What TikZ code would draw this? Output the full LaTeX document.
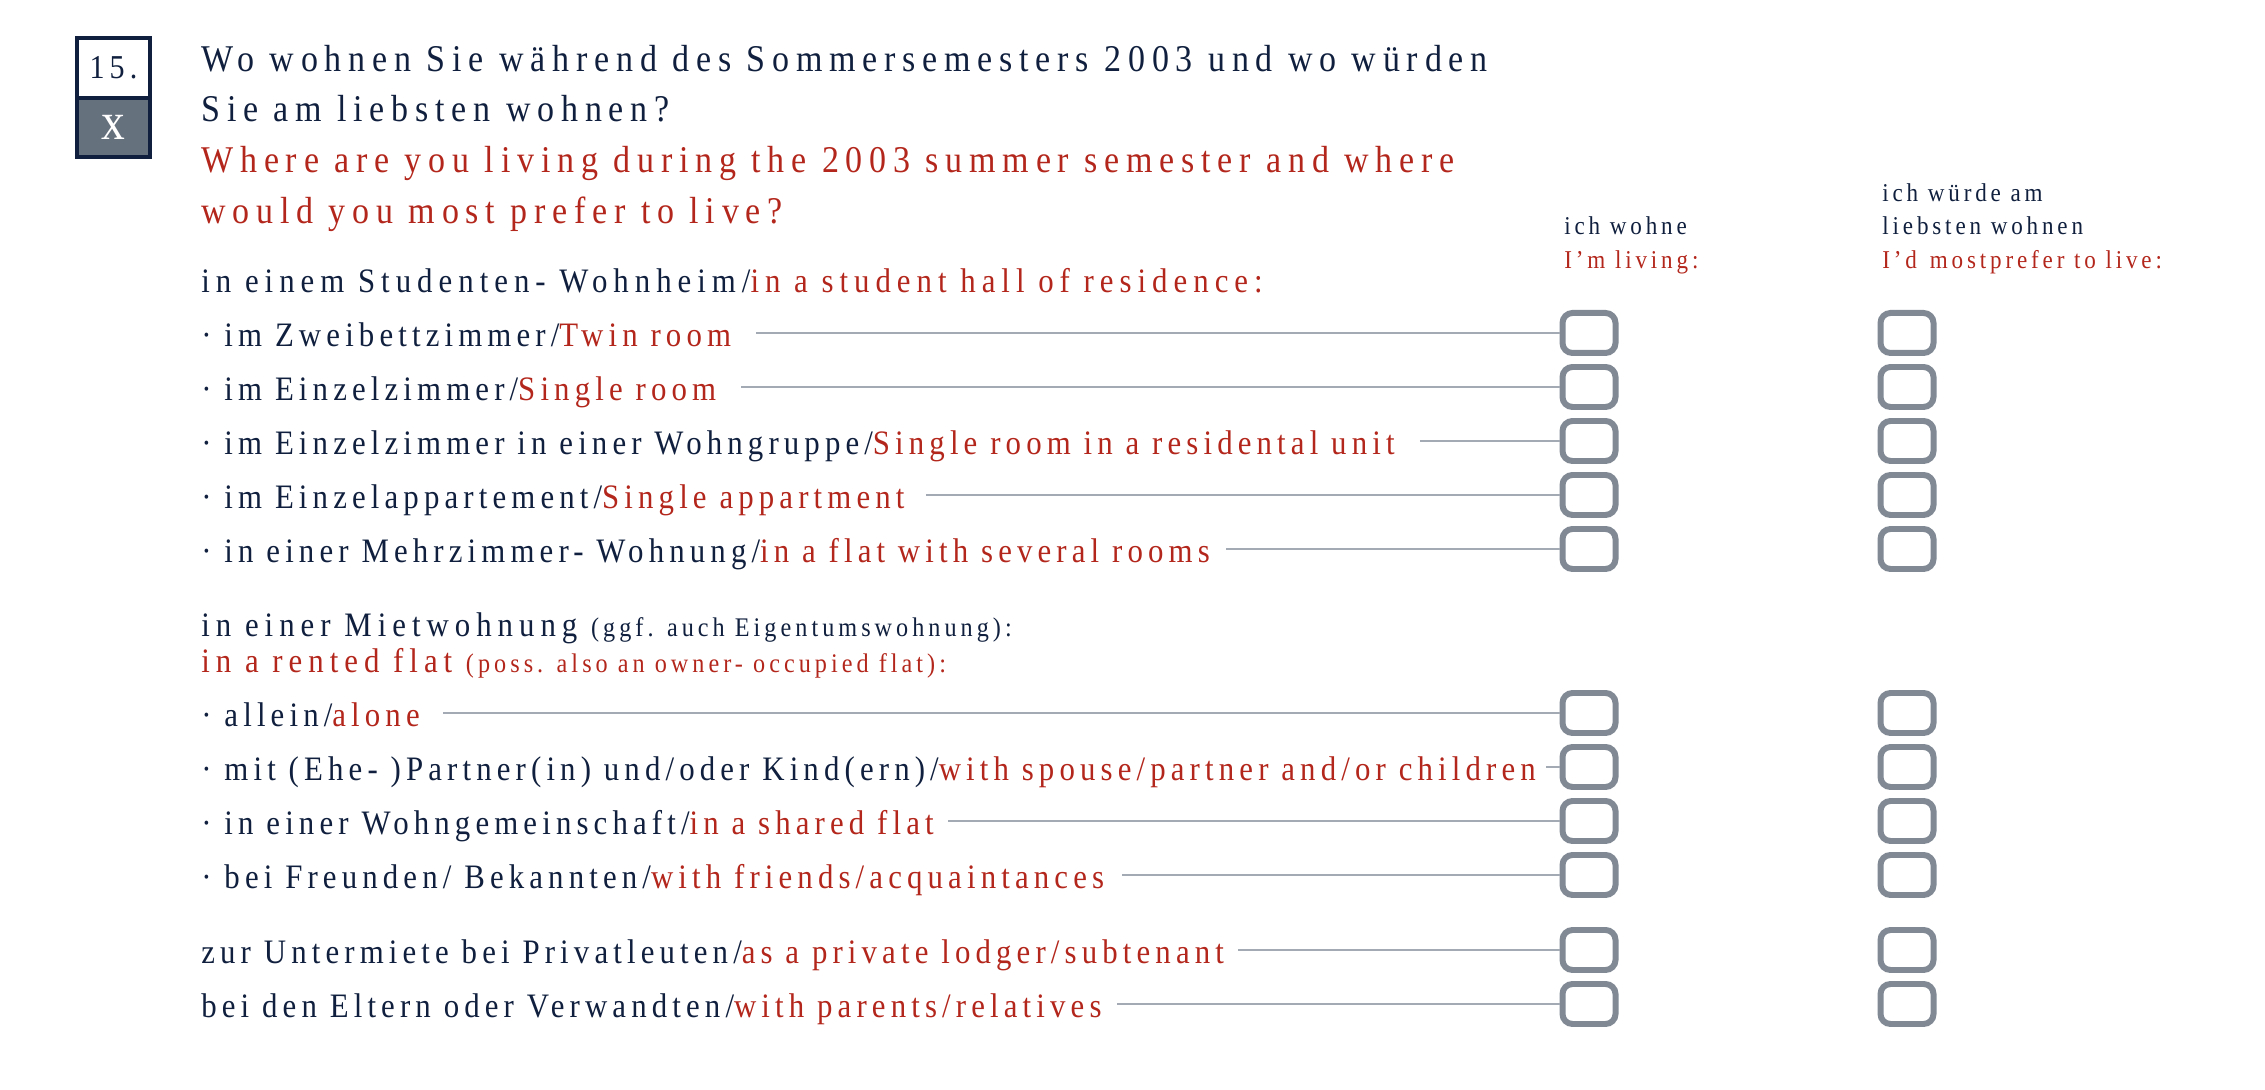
\documentclass[tikz,border=0pt]{standalone}
\usepackage{fontspec}
\setmainfont{Liberation Serif}[FakeStretch=0.9,LetterSpace=15]
\newfontfamily\titlefont{Liberation Serif}[FakeStretch=0.9,LetterSpace=18]
\newfontfamily\sectfont{Liberation Serif}[FakeStretch=0.9,LetterSpace=17.5]
\usepackage{tikz}
\usepackage{xcolor}

\definecolor{navy}{HTML}{0F1F3D}
\definecolor{brick}{HTML}{B3261B}
\definecolor{slate}{HTML}{66717E}
\definecolor{boxgrey}{HTML}{808994}
\definecolor{leadgrey}{HTML}{A3AAB4}
\newcommand{\en}[1]{\textcolor{brick}{#1}}
\newcommand{\dotrow}{\textperiodcentered\ }
\newcommand{\aside}[1]{{\fontsize{15.3}{18}\selectfont\rmfamily #1}}

\tikzset{
  numbox/.style={draw=navy,line width=2.3pt,minimum width=1.46cm,minimum height=1.19cm,inner sep=0pt},
  title/.style={anchor=base west,inner sep=0pt,text=navy,font=\titlefont\fontsize{21.5}{25}\selectfont},
  sect/.style={anchor=base west,inner sep=0pt,text=navy,font=\sectfont\fontsize{19.5}{23}\selectfont},
  row/.style={anchor=base west,inner sep=0pt,text=navy,font=\fontsize{19.5}{23}\selectfont},
  head/.style={anchor=base west,inner sep=0pt,text=navy,font=\fontsize{14.6}{17}\selectfont},
  tickbox/.style={draw=boxgrey,line width=3.4pt,rounded corners=0.2cm,minimum width=1.06cm,minimum height=0.8cm,inner sep=0pt},
  leader/.style={draw=leadgrey,line width=1.1pt}
}

\begin{document}
\begin{tikzpicture}

\useasboundingbox (0,0) rectangle (45.3,21.8);

\node[numbox,fill=white] (num) at (2.27,20.44) {\fontsize{19}{22}\selectfont\color{navy}15.};
\node[numbox,fill=slate] (ans) at (2.27,19.25) {\fontsize{30}{30}\selectfont\color{white}x};

\node[title] (q1) at (4.02,20.36) {Wo wohnen Sie während des Sommersemesters 2003 und wo würden};
\node[title] (q2) at (4.02,19.36) {Sie am liebsten wohnen?};
\node[title,text=brick] (q3) at (4.02,18.34) {Where are you living during the 2003 summer semester and where};
\node[title,text=brick] (q4) at (4.02,17.32) {would you most prefer to live?};

\node[head] (h1) at (31.28,17.1) {ich wohne};
\node[head,text=brick] (h1en) at (31.28,16.42) {I'm living:};
\node[head] (h2) at (37.64,17.76) {ich würde am};
\node[head] (h2b) at (37.64,17.1) {liebsten wohnen};
\node[head,text=brick] (h2en) at (37.64,16.42) {I'd\enspace mostprefer to live:};

% student hall
\node[sect] (hall) at (4.02,15.94) {in einem Studenten- Wohnheim/\en{in a student hall of residence:}};
\node[row] (r1) at (4.02,14.86) {\dotrow im Zweibettzimmer/\en{Twin room}};
\node[row] (r2) at (4.02,13.78) {\dotrow im Einzelzimmer/\en{Single room}};
\node[row] (r3) at (4.02,12.70) {\dotrow im Einzelzimmer in einer Wohngruppe/\en{Single room in a residental unit}};
\node[row] (r4) at (4.02,11.62) {\dotrow im Einzelappartement/\en{Single appartment}};
\node[row] (r5) at (4.02,10.54) {\dotrow in einer Mehrzimmer- Wohnung/\en{in a flat with several rooms}};

% rented flat
\node[sect] (flat) at (4.02,9.06) {in einer Mietwohnung \aside{(ggf. auch Eigentumswohnung):}};
\node[sect,text=brick] (flaten) at (4.02,8.34) {in a rented flat \aside{(poss. also an owner- occupied flat):}};
\node[row] (r6) at (4.02,7.26) {\dotrow allein/\en{alone}};
\node[row] (r7) at (4.02,6.18) {\dotrow mit (Ehe- )Partner(in) und/oder Kind(ern)/\en{with spouse/partner and/or children}};
\node[row] (r8) at (4.02,5.10) {\dotrow in einer Wohngemeinschaft/\en{in a shared flat}};
\node[row] (r9) at (4.02,4.02) {\dotrow bei Freunden/ Bekannten/\en{with friends/acquaintances}};

\node[row] (r10) at (4.02,2.52) {zur Untermiete bei Privatleuten/\en{as a private lodger/subtenant}};
\node[row] (r11) at (4.02,1.44) {bei den Eltern oder Verwandten/\en{with parents/relatives}};

% boxes
\node[tickbox] (a1) at (31.78,15.14) {};
\node[tickbox] (b1) at (38.14,15.14) {};
\node[tickbox] (a2) at (31.78,14.06) {};
\node[tickbox] (b2) at (38.14,14.06) {};
\node[tickbox] (a3) at (31.78,12.98) {};
\node[tickbox] (b3) at (38.14,12.98) {};
\node[tickbox] (a4) at (31.78,11.90) {};
\node[tickbox] (b4) at (38.14,11.90) {};
\node[tickbox] (a5) at (31.78,10.82) {};
\node[tickbox] (b5) at (38.14,10.82) {};
\node[tickbox] (a6) at (31.78,7.54) {};
\node[tickbox] (b6) at (38.14,7.54) {};
\node[tickbox] (a7) at (31.78,6.46) {};
\node[tickbox] (b7) at (38.14,6.46) {};
\node[tickbox] (a8) at (31.78,5.38) {};
\node[tickbox] (b8) at (38.14,5.38) {};
\node[tickbox] (a9) at (31.78,4.30) {};
\node[tickbox] (b9) at (38.14,4.30) {};
\node[tickbox] (a10) at (31.78,2.80) {};
\node[tickbox] (b10) at (38.14,2.80) {};
\node[tickbox] (a11) at (31.78,1.72) {};
\node[tickbox] (b11) at (38.14,1.72) {};

% leaders
\draw[leader] ([xshift=0.5cm]r1.east |- a1.west) -- (a1.west);
\draw[leader] ([xshift=0.5cm]r2.east |- a2.west) -- (a2.west);
\draw[leader] ([xshift=0.5cm]r3.east |- a3.west) -- (a3.west);
\draw[leader] ([xshift=0.42cm]r4.east |- a4.west) -- (a4.west);
\draw[leader] ([xshift=0.32cm]r5.east |- a5.west) -- (a5.west);
\draw[leader] ([xshift=0.46cm]r6.east |- a6.west) -- (a6.west);
\draw[leader] ([xshift=0.2cm]r7.east |- a7.west) -- (a7.west);
\draw[leader] ([xshift=0.28cm]r8.east |- a8.west) -- (a8.west);
\draw[leader] ([xshift=0.36cm]r9.east |- a9.west) -- (a9.west);
\draw[leader] ([xshift=0.28cm]r10.east |- a10.west) -- (a10.west);
\draw[leader] ([xshift=0.3cm]r11.east |- a11.west) -- (a11.west);

\end{tikzpicture}
\end{document}
